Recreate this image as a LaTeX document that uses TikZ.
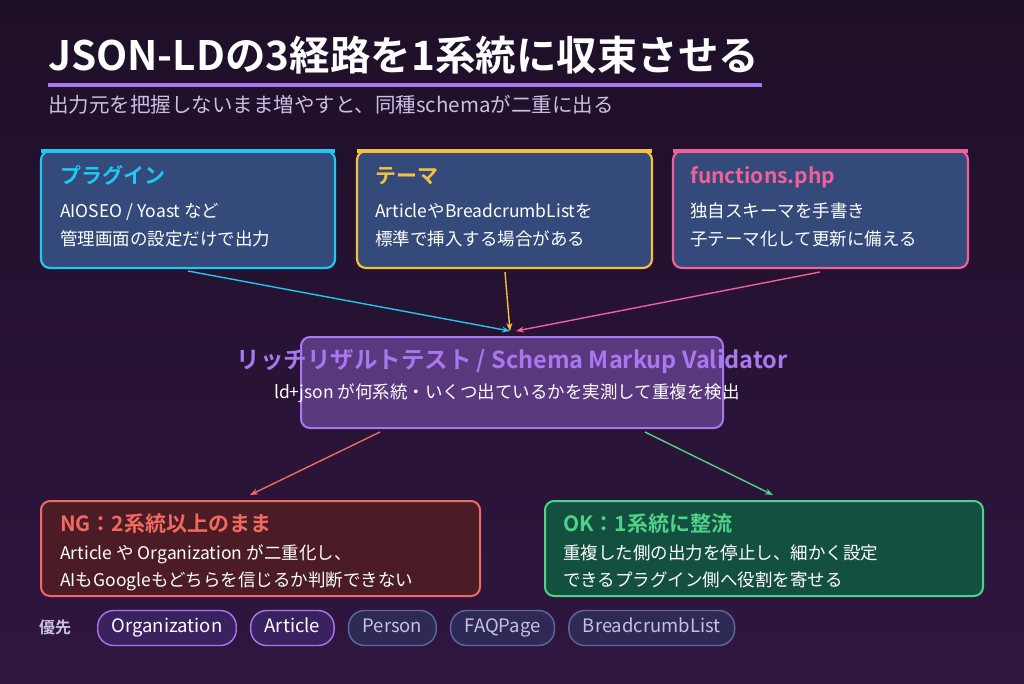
\documentclass[tikz,border=0pt]{standalone}
\usepackage{fontspec}
\setmainfont{Noto Sans CJK JP}
\newfontfamily\jpbold{Noto Sans CJK JP}[UprightFont=* Bold]
\usetikzlibrary{arrows.meta,positioning}
\definecolor{bgtop}{HTML}{1E0F28}
\definecolor{bgbot}{HTML}{30163F}
\definecolor{cyanc}{HTML}{1EC8F0}
\definecolor{yelc}{HTML}{F5C040}
\definecolor{pinkc}{HTML}{F0609A}
\definecolor{purc}{HTML}{A878F0}
\definecolor{redc}{HTML}{F06A60}
\definecolor{grnc}{HTML}{50D088}
\definecolor{slate}{HTML}{334A7A}
\definecolor{subc}{HTML}{C8C0E0}
\definecolor{ngfill}{HTML}{4C1C26}
\definecolor{okfill}{HTML}{145040}
\definecolor{pillon}{HTML}{3A2260}
\definecolor{pilloff}{HTML}{2E2A55}
\definecolor{pilledge}{HTML}{5A6AA0}
\begin{document}
\begin{tikzpicture}[x=1pt,y=-1pt,
  src/.style={draw=#1,line width=2.2pt,rounded corners=9pt,fill=slate},
  ttl/.style={anchor=base west,inner sep=0,font=\jpbold\fontsize{21}{24}\selectfont,text=#1},
  body/.style={anchor=base west,inner sep=0,font=\fontsize{17.5}{20}\selectfont,text=white},
  pill/.style={draw=#1,line width=1.4pt,rounded corners=16pt,minimum height=35pt,inner xsep=14pt,text height=13pt,text depth=4pt,font=\fontsize{18.5}{21}\selectfont},
  arr/.style={draw=#1,line width=1.4pt,-{Stealth[length=8pt,width=6pt]}}]
\shade[top color=bgtop,bottom color=bgbot] (0,0) rectangle (1024,683);
\useasboundingbox (0,0) rectangle (1024,683);
% title
\node[anchor=base west,inner sep=0,text=white,font=\jpbold\fontsize{40.5}{46}\selectfont] (title) at (48,70) {JSON-LDの3経路を1系統に収束させる};
\fill[purc] (48,83) rectangle (762,87);
\node[anchor=base west,inner sep=0,text=subc,font=\fontsize{20.5}{23}\selectfont] (sub) at (48,112) {出力元を把握しないまま増やすと、同種schemaが二重に出る};
% sources
\draw[src=cyanc] (41,151) rectangle (335,268);
\fill[cyanc] (41,149) rectangle (335,153);
\node[ttl=cyanc] (plug) at (60,183) {プラグイン};
\node[body] at (60,217) {AIOSEO / Yoast など};
\node[body] at (60,245) {管理画面の設定だけで出力};
\draw[src=yelc] (357,151) rectangle (652,268);
\fill[yelc] (357,149) rectangle (652,153);
\node[ttl=yelc] (theme) at (375,183) {テーマ};
\node[body] at (375,217) {ArticleやBreadcrumbListを};
\node[body] at (375,245) {標準で挿入する場合がある};
\draw[src=pinkc] (673,151) rectangle (968,268);
\fill[pinkc] (673,149) rectangle (968,153);
\node[ttl=pinkc] (func) at (690,183) {functions.php};
\node[body] at (690,217) {独自スキーマを手書き};
\node[body] at (690,245) {子テーマ化して更新に備える};
% validator
\draw[draw=purc,line width=2pt,rounded corners=9pt,fill=purc!35!bgbot] (301,337) rectangle (723,428);
\node[text=purc,font=\jpbold\fontsize{23.5}{27}\selectfont] (valid) at (512,361) {リッチリザルトテスト / Schema Markup Validator};
\node[text=white,font=\fontsize{17.5}{20}\selectfont] (vbody) at (507,393) {ld+json が何系統・いくつ出ているかを実測して重複を検出};
% results
\draw[draw=redc,line width=2pt,rounded corners=9pt,fill=ngfill] (41,501) rectangle (480,596);
\node[ttl=redc] (ng) at (60,531) {NG：2系統以上のまま};
\node[body] at (60,559) {Article や Organization が二重化し、};
\node[body] at (60,586) {AIもGoogleもどちらを信じるか判断できない};
\draw[draw=grnc,line width=2pt,rounded corners=9pt,fill=okfill] (545,501) rectangle (983,596);
\node[ttl=grnc] (ok) at (563,531) {OK：1系統に整流};
\node[body] at (563,559) {重複した側の出力を停止し、細かく設定};
\node[body] at (563,586) {できるプラグイン側へ役割を寄せる};
% connectors
\coordinate (p1) at (188,271); \coordinate (t1) at (505,272); \coordinate (f1) at (820,272);
\coordinate (vin) at (510,331); \coordinate (vin2) at (516,331);
\coordinate (v1) at (380,432); \coordinate (v2) at (645,432);
\coordinate (ngin) at (250,495); \coordinate (okin) at (773,495);
\draw[arr=cyanc] (p1) -- (vin);
\draw[arr=yelc] (t1) -- (vin);
\draw[arr=pinkc] (f1) -- (vin2);
\draw[arr=redc] (v1) -- (ngin);
\draw[arr=grnc] (v2) -- (okin);
% priorities
\node[anchor=west,inner sep=0,text=subc,font=\jpbold\fontsize{16}{18}\selectfont] (prio) at (39,627) {優先};
\node[pill=purc,fill=pillon,text=white,anchor=west] (org) at (97,628) {Organization};
\node[pill=purc,fill=pillon,text=white,right=13pt of org] (art) {Article};
\node[pill=pilledge,fill=pilloff,text=subc,right=13pt of art] (pers) {Person};
\node[pill=pilledge,fill=pilloff,text=subc,right=13pt of pers] (faq) {FAQPage};
\node[pill=pilledge,fill=pilloff,text=subc,right=13pt of faq] (bcl) {BreadcrumbList};
\end{tikzpicture}
\end{document}
